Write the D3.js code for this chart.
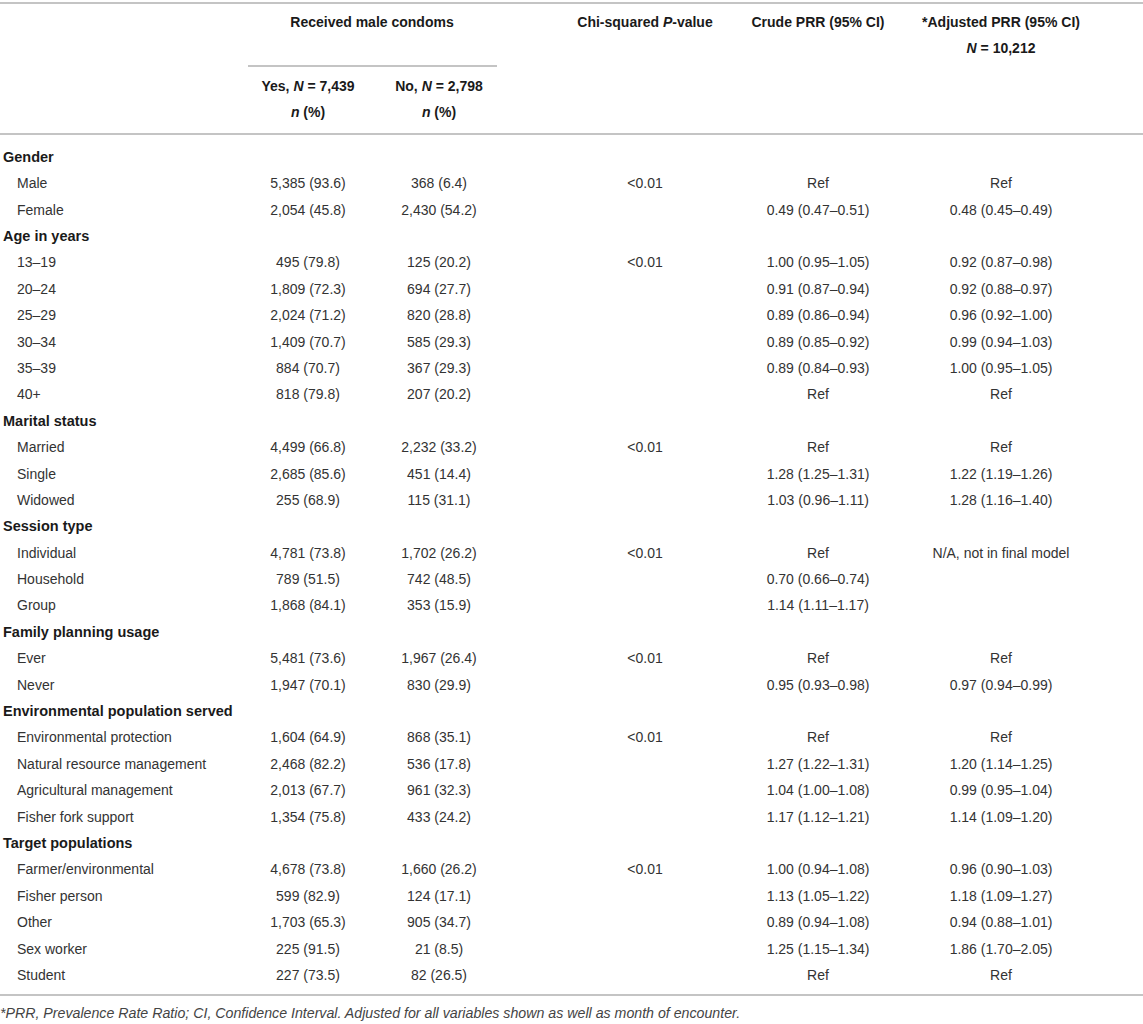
<!DOCTYPE html>
<html>
<head>
<meta charset="utf-8">
<script src="https://cdn.jsdelivr.net/npm/d3@7"></script>
<style>
  body { margin: 0; background: #fff; }
  svg text { font-family: "Liberation Sans", Arial, sans-serif; }
</style>
</head>
<body>
<svg id="drawing_region"></svg>
<script>
// ---- data ----
const groups = ["Gender", "Age in years", "Marital status", "Session type",
    "Family planning usage", "Environmental population served", "Target populations"];

const items = [
    ["Male", "Female"],
    ["13–19", "20–24", "25–29", "30–34", "35–39", "40+"],
    ["Married", "Single", "Widowed"],
    ["Individual", "Household", "Group"],
    ["Ever", "Never"],
    ["Environmental protection", "Natural resource management", "Agricultural management", "Fisher fork support"],
    ["Farmer/environmental", "Fisher person", "Other", "Sex worker", "Student"]
];

const yesN   = [[5385, 2054], [495, 1809, 2024, 1409, 884, 818], [4499, 2685, 255], [4781, 789, 1868], [5481, 1947], [1604, 2468, 2013, 1354], [4678, 599, 1703, 225, 227]];
const yesPct = [[93.6, 45.8], [79.8, 72.3, 71.2, 70.7, 70.7, 79.8], [66.8, 85.6, 68.9], [73.8, 51.5, 84.1], [73.6, 70.1], [64.9, 82.2, 67.7, 75.8], [73.8, 82.9, 65.3, 91.5, 73.5]];
const noN    = [[368, 2430], [125, 694, 820, 585, 367, 207], [2232, 451, 115], [1702, 742, 353], [1967, 830], [868, 536, 961, 433], [1660, 124, 905, 21, 82]];
const noPct  = [[6.4, 54.2], [20.2, 27.7, 28.8, 29.3, 29.3, 20.2], [33.2, 14.4, 31.1], [26.2, 48.5, 15.9], [26.4, 29.9], [35.1, 17.8, 32.3, 24.2], [26.2, 17.1, 34.7, 8.5, 26.5]];
const pValue = ["<0.01", "<0.01", "<0.01", "<0.01", "<0.01", "<0.01", "<0.01"];

const crudePRR = [
    ["Ref", "0.49 (0.47–0.51)"],
    ["1.00 (0.95–1.05)", "0.91 (0.87–0.94)", "0.89 (0.86–0.94)", "0.89 (0.85–0.92)", "0.89 (0.84–0.93)", "Ref"],
    ["Ref", "1.28 (1.25–1.31)", "1.03 (0.96–1.11)"],
    ["Ref", "0.70 (0.66–0.74)", "1.14 (1.11–1.17)"],
    ["Ref", "0.95 (0.93–0.98)"],
    ["Ref", "1.27 (1.22–1.31)", "1.04 (1.00–1.08)", "1.17 (1.12–1.21)"],
    ["1.00 (0.94–1.08)", "1.13 (1.05–1.22)", "0.89 (0.94–1.08)", "1.25 (1.15–1.34)", "Ref"]
];
const adjPRR = [
    ["Ref", "0.48 (0.45–0.49)"],
    ["0.92 (0.87–0.98)", "0.92 (0.88–0.97)", "0.96 (0.92–1.00)", "0.99 (0.94–1.03)", "1.00 (0.95–1.05)", "Ref"],
    ["Ref", "1.22 (1.19–1.26)", "1.28 (1.16–1.40)"],
    ["N/A, not in final model", "", ""],
    ["Ref", "0.97 (0.94–0.99)"],
    ["Ref", "1.20 (1.14–1.25)", "0.99 (0.95–1.04)", "1.14 (1.09–1.20)"],
    ["0.96 (0.90–1.03)", "1.18 (1.09–1.27)", "0.94 (0.88–1.01)", "1.86 (1.70–2.05)", "Ref"]
];

const footnote = "*PRR, Prevalence Rate Ratio; CI, Confidence Interval. Adjusted for all variables shown as well as month of encounter.";

// ---- build rows ----
const fmt = d3.format(",");
const rows = [];
groups.forEach((g, gi) => {
    rows.push({ label: g, group: true });
    items[gi].forEach((it, i) => {
        rows.push({
            label: it, group: false,
            yes: `${fmt(yesN[gi][i])} (${yesPct[gi][i].toFixed(1)})`,
            no: `${fmt(noN[gi][i])} (${noPct[gi][i].toFixed(1)})`,
            p: i === 0 ? pValue[gi] : "",
            crude: crudePRR[gi][i],
            adj: adjPRR[gi][i]
        });
    });
});

const width = 1143, height = 1024;
const svg = d3.select("#drawing_region").attr("width", width).attr("height", height);

const colKeys = ["yes", "no", "p", "crude", "adj"];
const xcol = d3.scaleOrdinal().domain(colKeys).range([308, 439, 645, 818, 1001]);
const yrow = d3.scalePoint().domain(d3.range(rows.length)).range([157, 975]);

const lineColor = "#c4c4c4";
const bodyColor = "#333";
const headColor = "#1a1a1a";

// ---- rules ----
const rules = [
    { x1: 0, x2: width, y: 3 },
    { x1: 248, x2: 497, y: 66 },
    { x1: 0, x2: width, y: 134 },
    { x1: 0, x2: width, y: 995 }
];
svg.selectAll("line.rule").data(rules).join("line")
    .attr("class", "rule")
    .attr("x1", d => d.x1).attr("x2", d => d.x2)
    .attr("y1", d => d.y).attr("y2", d => d.y)
    .attr("stroke", lineColor).attr("stroke-width", 2);

// ---- header ----
const head = svg.append("g")
    .attr("font-size", 14).attr("font-weight", "bold").attr("fill", headColor)
    .attr("text-anchor", "middle");

head.append("text").attr("x", 372).attr("y", 22).attr("dy", "0.35em").text("Received male condoms");

const h1 = head.append("text").attr("x", xcol("yes")).attr("y", 86).attr("dy", "0.35em");
h1.append("tspan").text("Yes, ");
h1.append("tspan").attr("font-style", "italic").text("N");
h1.append("tspan").text(" = 7,439");
const h2 = head.append("text").attr("x", xcol("no")).attr("y", 86).attr("dy", "0.35em");
h2.append("tspan").text("No, ");
h2.append("tspan").attr("font-style", "italic").text("N");
h2.append("tspan").text(" = 2,798");

[xcol("yes"), xcol("no")].forEach(x => {
    const t = head.append("text").attr("x", x).attr("y", 112).attr("dy", "0.35em");
    t.append("tspan").attr("font-style", "italic").text("n");
    t.append("tspan").text(" (%)");
});

const hp = head.append("text").attr("x", xcol("p")).attr("y", 22).attr("dy", "0.35em");
hp.append("tspan").text("Chi-squared ");
hp.append("tspan").attr("font-style", "italic").text("P");
hp.append("tspan").text("-value");

head.append("text").attr("x", xcol("crude")).attr("y", 22).attr("dy", "0.35em").text("Crude PRR (95% CI)");
head.append("text").attr("x", xcol("adj")).attr("y", 22).attr("dy", "0.35em").text("*Adjusted PRR (95% CI)");
const ha = head.append("text").attr("x", xcol("adj")).attr("y", 48).attr("dy", "0.35em");
ha.append("tspan").attr("font-style", "italic").text("N");
ha.append("tspan").text(" = 10,212");

// ---- body ----
const body = svg.append("g").attr("font-size", 14);

const rowG = body.selectAll("g.row").data(rows).join("g")
    .attr("class", "row")
    .attr("transform", (d, i) => `translate(0, ${yrow(i)})`);

rowG.append("text")
    .attr("x", d => d.group ? 3 : 17)
    .attr("dy", "0.35em")
    .attr("font-size", d => d.group ? 14.5 : 14)
    .attr("font-weight", d => d.group ? "bold" : "normal")
    .attr("fill", d => d.group ? headColor : bodyColor)
    .text(d => d.label);

rowG.filter(d => !d.group).selectAll("text.cell")
    .data(d => colKeys.map(k => ({ key: k, value: d[k] })))
    .join("text")
    .attr("class", "cell")
    .attr("x", d => xcol(d.key))
    .attr("dy", "0.35em")
    .attr("text-anchor", "middle")
    .attr("fill", bodyColor)
    .text(d => d.value);

// ---- footnote ----
svg.append("text")
    .attr("x", 0).attr("y", 1013).attr("dy", "0.35em")
    .attr("font-size", 14.2).attr("font-style", "italic").attr("fill", "#444")
    .text(footnote);
</script>
</body>
</html>
